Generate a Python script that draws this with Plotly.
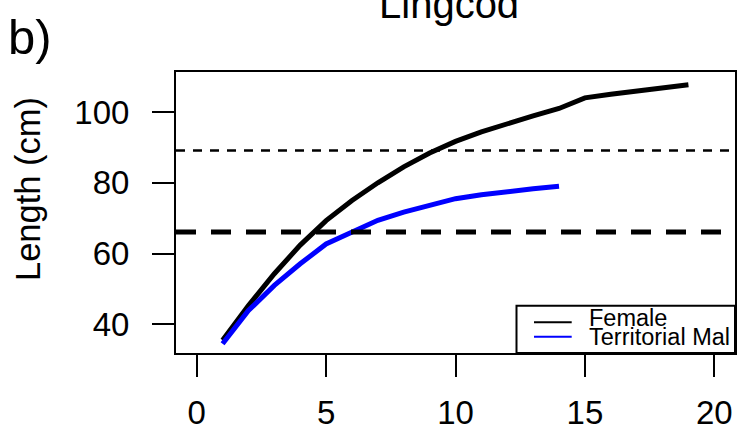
import plotly.graph_objects as go

# ---- data ----
ages_female = list(range(1, 20))
len_female = [35.5, 45.3, 54.3, 62.4, 69.3, 75.0, 80.0, 84.5, 88.4, 91.7,
              94.4, 96.8, 98.9, 101.0, 104.0, 105.0, 106.0, 106.9, 107.7]
ages_male = list(range(1, 15))
len_male = [34.5, 43.9, 51.0, 57.1, 62.7, 66.2, 69.4, 71.7, 73.6, 75.5,
            76.6, 77.6, 78.3, 79.0]
series_names = ["Female", "Territorial Mal"]
series_colors = ["black", "#0000ff"]
ref_thin = 89.1
ref_thick = 66.1
x_ticks = [0, 5, 10, 15, 20]
y_ticks = [40, 60, 80, 100]
title_text = "Lingcod"
panel_label = "b)"
y_label = "Length (cm)"

FONT = "Liberation Sans, Arial, Helvetica, sans-serif"

W, H = 737, 436
ML, MR, MT, MB = 176, 2, 72, 83
PW, PH = W - ML - MR, H - MT - MB


def px(x):
    return (x - ML) / PW


def py(y):
    return (MT + PH - y) / PH


fig = go.Figure()
fig.add_trace(go.Scatter(x=ages_female, y=len_female, mode="lines",
                         line=dict(color=series_colors[0], width=5),
                         name=series_names[0], showlegend=False))
fig.add_trace(go.Scatter(x=ages_male, y=len_male, mode="lines",
                         line=dict(color=series_colors[1], width=5),
                         name=series_names[1], showlegend=False))

# horizontal reference lines
fig.add_shape(type="line", xref="paper", yref="y", x0=0, x1=1,
              y0=ref_thin, y1=ref_thin,
              line=dict(color="black", width=2.5, dash="9px,8px"))
fig.add_shape(type="line", xref="paper", yref="y", x0=0, x1=1,
              y0=ref_thick, y1=ref_thick,
              line=dict(color="black", width=5, dash="20px,15px"))

# legend (drawn manually, overlapping like the reference)
fig.add_shape(type="rect", xref="paper", yref="paper",
              x0=px(516.5), x1=1.0, y0=0, y1=py(305.7),
              line=dict(color="black", width=2), fillcolor="white", layer="above")
leg_line_y = [322.3, 336.7]
leg_text_y = [318.2, 336.5]
for i in range(2):
    fig.add_shape(type="line", xref="paper", yref="paper",
                  x0=px(534), x1=px(571.7), y0=py(leg_line_y[i]), y1=py(leg_line_y[i]),
                  line=dict(color=series_colors[i], width=2), layer="above")
    fig.add_annotation(xref="paper", yref="paper", x=px(587), y=py(leg_text_y[i]),
                       xanchor="left", yanchor="middle", showarrow=False,
                       text=series_names[i], font=dict(family=FONT, size=23.5, color="black"))

# title, panel label, y label
fig.add_annotation(xref="paper", yref="paper", x=px(449), y=py(3.5),
                   xanchor="center", yanchor="middle", showarrow=False,
                   text=title_text, font=dict(family=FONT, size=40, color="black"))
fig.add_annotation(xref="paper", yref="paper", x=px(6), y=py(37),
                   xanchor="left", yanchor="middle", showarrow=False,
                   text=panel_label, font=dict(family=FONT, size=49, color="black"))
fig.add_annotation(xref="paper", yref="paper", x=px(27.5), y=py(189.5),
                   xanchor="center", yanchor="middle", showarrow=False, textangle=-90,
                   text=y_label, font=dict(family=FONT, size=34.5, color="black"))

axis_common = dict(showgrid=False, zeroline=False, showline=True, mirror=True,
                   linecolor="black", linewidth=2, ticks="outside", ticklen=22,
                   tickwidth=2, tickcolor="black", automargin=False,
                   tickfont=dict(family=FONT, size=33, color="black"))
fig.update_xaxes(range=[-0.8, 20.8], tickmode="array", tickvals=x_ticks,
                 ticktext=[str(v) for v in x_ticks], ticklabelstandoff=7, **axis_common)
fig.update_yaxes(range=[31.9, 111.3], tickmode="array", tickvals=y_ticks,
                 ticktext=[str(v) for v in y_ticks], ticklabelstandoff=16, **axis_common)

fig.update_layout(width=W, height=H,
                  margin=dict(l=ML, r=MR, t=MT, b=MB, autoexpand=False),
                  paper_bgcolor="white", plot_bgcolor="white",
                  font=dict(family=FONT, color="black"), showlegend=False)

fig.write_html("out.html")
